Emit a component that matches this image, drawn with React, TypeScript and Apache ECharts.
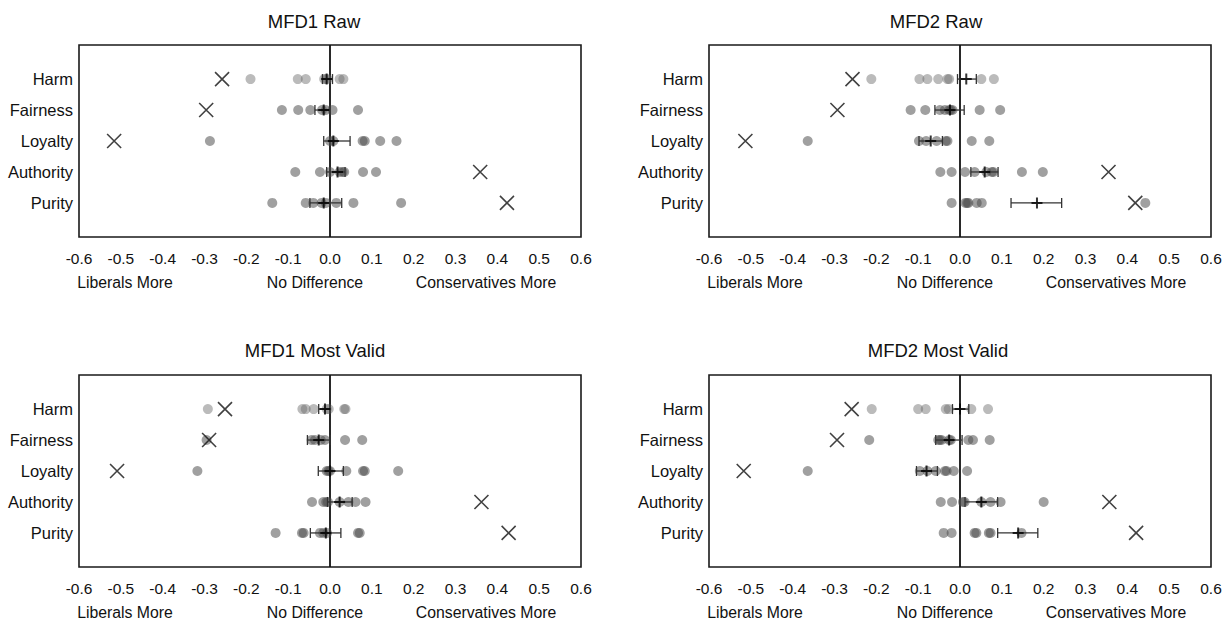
import React, { useEffect, useRef } from "react";
import * as echarts from "echarts";

const categories = ["Harm", "Fairness", "Loyalty", "Authority", "Purity"];
const categoryPositions = [1, 2, 3, 4, 5];
const panelTitles = ["MFD1 Raw", "MFD2 Raw", "MFD1 Most Valid", "MFD2 Most Valid"];
const directionLabels = ["Liberals More", "No Difference", "Conservatives More"];
const xTickValues = [-0.6, -0.5, -0.4, -0.3, -0.2, -0.1, 0, 0.1, 0.2, 0.3, 0.4, 0.5, 0.6];

// ---- MFD1 Raw ----
const mfd1RawDots = [
  [-0.19, -0.077, -0.058, -0.014, -0.01, -0.006, 0.023, 0.032],
  [-0.115, -0.076, -0.047, -0.019, -0.01, 0.006, 0.067],
  [-0.287, 0.0, 0.008, 0.078, 0.083, 0.12, 0.159],
  [-0.083, -0.024, 0.0, 0.023, 0.03, 0.034, 0.079, 0.11],
  [-0.138, -0.058, -0.04, -0.02, -0.01, 0.015, 0.056, 0.17],
];
const mfd1RawMean = [-0.008, -0.015, 0.008, 0.018, -0.015];
const mfd1RawLow = [-0.018, -0.036, -0.015, -0.008, -0.048];
const mfd1RawHigh = [0.006, 0.0, 0.048, 0.036, 0.028];
const mfd1RawRef = [-0.258, -0.296, -0.516, 0.359, 0.423];

// ---- MFD2 Raw ----
const mfd2RawDots = [
  [-0.212, -0.097, -0.078, -0.052, -0.03, -0.026, 0.051, 0.081],
  [-0.118, -0.083, -0.048, -0.036, -0.026, -0.022, -0.018, 0.047, 0.096],
  [-0.364, -0.098, -0.081, -0.056, -0.034, -0.03, 0.028, 0.07],
  [-0.047, -0.02, 0.012, 0.035, 0.063, 0.076, 0.08, 0.148, 0.198],
  [-0.02, 0.013, 0.017, 0.02, 0.04, 0.052, 0.443],
];
const mfd2RawMean = [0.015, -0.024, -0.07, 0.059, 0.184];
const mfd2RawLow = [-0.006, -0.06, -0.098, 0.026, 0.122];
const mfd2RawHigh = [0.039, 0.01, -0.042, 0.091, 0.243];
const mfd2RawRef = [-0.257, -0.293, -0.513, 0.355, 0.419];

// ---- MFD1 Most Valid ----
const mfd1ValidDots = [
  [-0.292, -0.066, -0.058, -0.039, -0.008, -0.003, 0.034, 0.037],
  [-0.295, -0.044, -0.036, -0.022, -0.012, 0.036, 0.077],
  [-0.317, -0.008, -0.004, 0.0, 0.039, 0.079, 0.083, 0.163],
  [-0.043, -0.016, -0.009, -0.005, 0.023, 0.044, 0.061, 0.085],
  [-0.13, -0.067, -0.063, -0.024, -0.016, -0.007, 0.067, 0.071],
];
const mfd1ValidMean = [-0.012, -0.027, 0.0, 0.023, -0.01];
const mfd1ValidLow = [-0.027, -0.054, -0.028, -0.006, -0.047];
const mfd1ValidHigh = [0.0, 0.0, 0.032, 0.053, 0.026];
const mfd1ValidRef = [-0.251, -0.289, -0.509, 0.362, 0.427];

// ---- MFD2 Most Valid ----
const mfd2ValidDots = [
  [-0.211, -0.1, -0.082, -0.034, -0.027, 0.027, 0.067],
  [-0.217, -0.052, -0.048, -0.044, -0.026, -0.022, 0.02, 0.031, 0.071],
  [-0.364, -0.096, -0.078, -0.058, -0.036, -0.032, -0.015, 0.017],
  [-0.046, -0.019, 0.007, 0.011, 0.051, 0.073, 0.097, 0.2],
  [-0.039, -0.02, 0.035, 0.039, 0.069, 0.073, 0.147],
];
const mfd2ValidMean = [0.0, -0.026, -0.08, 0.051, 0.139];
const mfd2ValidLow = [-0.018, -0.058, -0.104, 0.012, 0.09];
const mfd2ValidHigh = [0.021, 0.005, -0.054, 0.09, 0.186];
const mfd2ValidRef = [-0.259, -0.294, -0.517, 0.357, 0.421];

const panels = [
  { dots: mfd1RawDots, mean: mfd1RawMean, low: mfd1RawLow, high: mfd1RawHigh, ref: mfd1RawRef },
  { dots: mfd2RawDots, mean: mfd2RawMean, low: mfd2RawLow, high: mfd2RawHigh, ref: mfd2RawRef },
  { dots: mfd1ValidDots, mean: mfd1ValidMean, low: mfd1ValidLow, high: mfd1ValidHigh, ref: mfd1ValidRef },
  { dots: mfd2ValidDots, mean: mfd2ValidMean, low: mfd2ValidLow, high: mfd2ValidHigh, ref: mfd2ValidRef },
];

const FONT = "'Liberation Sans', Arial, sans-serif";
const GRID_W = 502;
const GRID_H = 192;
const gridPos = [
  { left: 79, top: 45 },
  { left: 709, top: 45 },
  { left: 79, top: 375 },
  { left: 709, top: 375 },
];
const titlePos = [
  { x: 314, y: 21 },
  { x: 936, y: 21 },
  { x: 315, y: 350 },
  { x: 938, y: 350 },
];
const dirOffsets = [46, 236, 407];

function buildOption() {
  const grid: any[] = [];
  const xAxis: any[] = [];
  const yAxis: any[] = [];
  const series: any[] = [];
  const graphic: any[] = [];

  panels.forEach((p, i) => {
    grid.push({
      left: gridPos[i].left,
      top: gridPos[i].top,
      width: GRID_W,
      height: GRID_H,
      show: true,
      borderColor: "#1a1a1a",
      borderWidth: 1.6,
      backgroundColor: "#fff",
    });
    xAxis.push({
      type: "value",
      gridIndex: i,
      min: -0.6,
      max: 0.6,
      interval: 0.1,
      axisLine: { show: false },
      axisTick: { show: false },
      splitLine: { show: false },
      axisLabel: {
        margin: 13,
        fontSize: 15.5,
        fontFamily: FONT,
        color: "#111",
        formatter: (v: number) => {
          const t = xTickValues.find((tv) => Math.abs(tv - v) < 1e-6);
          return t === undefined ? "" : t.toFixed(1);
        },
      },
    });
    yAxis.push({
      type: "value",
      gridIndex: i,
      min: -0.1,
      max: 6.1,
      inverse: true,
      axisLine: { show: false },
      axisTick: { show: false },
      splitLine: { show: false },
      axisLabel: {
        margin: 6,
        fontSize: 16.5,
        fontFamily: FONT,
        color: "#111",
        customValues: categoryPositions,
        formatter: (v: number) => categories[Math.round(v) - 1] || "",
      },
    });

    const dotData: any[] = [];
    p.dots.forEach((row, ci) => {
      row.forEach((v) => {
        dotData.push({
          value: [v, categoryPositions[ci]],
          itemStyle: {
            color: ci === 0 ? "rgba(100,100,100,0.55)" : "rgba(75,75,75,0.66)",
          },
        });
      });
    });
    series.push({
      type: "scatter",
      xAxisIndex: i,
      yAxisIndex: i,
      symbol: "circle",
      symbolSize: 10,
      data: dotData,
      silent: true,
      z: 2,
      markLine: {
        silent: true,
        symbol: "none",
        label: { show: false },
        lineStyle: { color: "#111", width: 1.8, type: "solid" },
        data: [{ xAxis: 0 }],
        z: 1,
      },
    });
    series.push({
      type: "custom",
      xAxisIndex: i,
      yAxisIndex: i,
      silent: true,
      z: 3,
      encode: { x: [0, 1], y: 2 },
      data: p.low.map((lo, ci) => [lo, p.high[ci], categoryPositions[ci]]),
      renderItem: (params: any, api: any) => {
        const y = api.value(2);
        const a = api.coord([api.value(0), y]);
        const b = api.coord([api.value(1), y]);
        const h = 5;
        const style = { stroke: "#333", lineWidth: 1.3, fill: "none" };
        return {
          type: "group",
          children: [
            { type: "line", shape: { x1: a[0], y1: a[1], x2: b[0], y2: b[1] }, style },
            { type: "line", shape: { x1: a[0], y1: a[1] - h, x2: a[0], y2: a[1] + h }, style },
            { type: "line", shape: { x1: b[0], y1: b[1] - h, x2: b[0], y2: b[1] + h }, style },
          ],
        };
      },
    });
    series.push({
      type: "scatter",
      xAxisIndex: i,
      yAxisIndex: i,
      symbol: "path://M5,0L5,10M0,5L10,5",
      symbolSize: 11,
      silent: true,
      z: 4,
      itemStyle: { color: "none", borderColor: "#000", borderWidth: 2 },
      data: p.mean.map((m, ci) => [m, categoryPositions[ci]]),
    });
    series.push({
      type: "scatter",
      xAxisIndex: i,
      yAxisIndex: i,
      symbol: "path://M0,0L10,10M10,0L0,10",
      symbolSize: 14,
      silent: true,
      z: 5,
      itemStyle: { color: "none", borderColor: "#111", borderWidth: 1.6 },
      data: p.ref.map((r, ci) => [r, categoryPositions[ci]]),
    });

    graphic.push({
      type: "text",
      x: titlePos[i].x,
      y: titlePos[i].y,
      silent: true,
      style: {
        text: panelTitles[i],
        fontSize: 18.5,
        fontWeight: "normal",
        fontFamily: FONT,
        fill: "#111",
        textAlign: "center",
        textVerticalAlign: "middle",
      },
    });
    directionLabels.forEach((label, li) => {
      graphic.push({
        type: "text",
        x: gridPos[i].left + dirOffsets[li],
        y: gridPos[i].top + GRID_H + 45,
        silent: true,
        style: {
          text: label,
          fontSize: 15.8,
          fontFamily: FONT,
          fill: "#111",
          textAlign: "center",
          textVerticalAlign: "middle",
        },
      });
    });
  });

  return {
    animation: false,
    backgroundColor: "#fff",
    grid,
    xAxis,
    yAxis,
    series,
    graphic,
  };
}

export default function App() {
  const ref = useRef<HTMLDivElement>(null);
  useEffect(() => {
    if (!ref.current) return;
    const chart = echarts.init(ref.current, undefined, { renderer: "svg" });
    chart.setOption(buildOption() as any);
    return () => chart.dispose();
  }, []);
  return (
    <div
      ref={ref}
      style={{ position: "fixed", left: 0, top: 0, width: 1227, height: 623, background: "#fff" }}
    />
  );
}
